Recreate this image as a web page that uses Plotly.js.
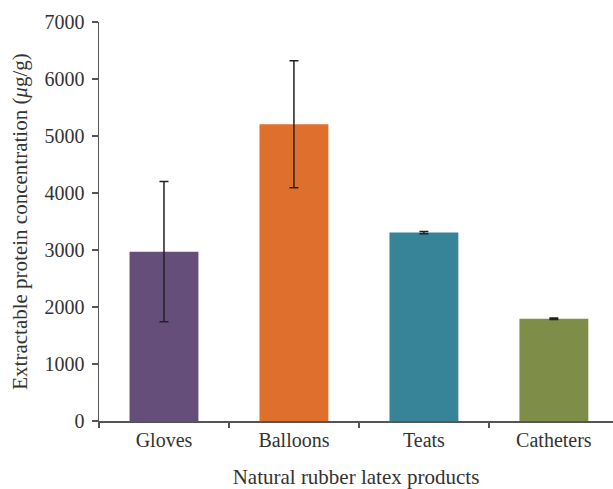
<!DOCTYPE html>
<html>
<head>
<meta charset="utf-8">
<script src="https://cdn.plot.ly/plotly-3.0.1.min.js"></script>
<style>html,body{margin:0;padding:0;background:#fff;}#chart{width:613px;height:489px;}</style>
</head>
<body>
<div id="chart"></div>
<script>
const categories = ["Gloves", "Balloons", "Teats", "Catheters"];
const values = [2970, 5205, 3305, 1795];
const errors = [1230, 1115, 18, 14];
const colors = ["#654F7A", "#DF6F2C", "#378498", "#7E8E49"];

const trace = {
  type: "bar",
  x: categories,
  y: values,
  width: 0.53,
  marker: {color: colors, line: {width: 0}},
  error_y: {type: "data", array: errors, visible: true, color: "#222", thickness: 1.5, width: 4.5}
};

const fontFam = "Liberation Serif, DejaVu Serif, serif";
const layout = {
  width: 613, height: 489,
  margin: {l: 99, r: 0, t: 22, b: 68},
  paper_bgcolor: "#fff", plot_bgcolor: "#fff",
  showlegend: false,
  font: {family: fontFam, size: 20, color: "#333"},
  xaxis: {
    range: [-0.5, 3.455],
    showline: true, linecolor: "#555", linewidth: 1.5,
    ticks: "outside", tickson: "boundaries", ticklen: 5, tickcolor: "#555", tickwidth: 1.5,
    tickfont: {family: fontFam, size: 20, color: "#333"},
    title: {text: "Natural rubber latex products", font: {family: fontFam, size: 21, color: "#333"}, standoff: 20},
    showgrid: false, zeroline: false
  },
  yaxis: {
    range: [0, 7000], dtick: 1000,
    showline: true, linecolor: "#555", linewidth: 1.5,
    ticks: "outside", ticklen: 6, tickcolor: "#555", tickwidth: 1.5,
    ticklabelstandoff: 3,
    tickfont: {family: fontFam, size: 20, color: "#333"},
    title: {text: "Extractable protein concentration (<i>μ</i>g/g)", font: {family: fontFam, size: 21, color: "#333"}, standoff: 11},
    showgrid: false, zeroline: false
  }
};

Plotly.newPlot("chart", [trace], layout, {displayModeBar: false, staticPlot: true});
</script>
</body>
</html>
